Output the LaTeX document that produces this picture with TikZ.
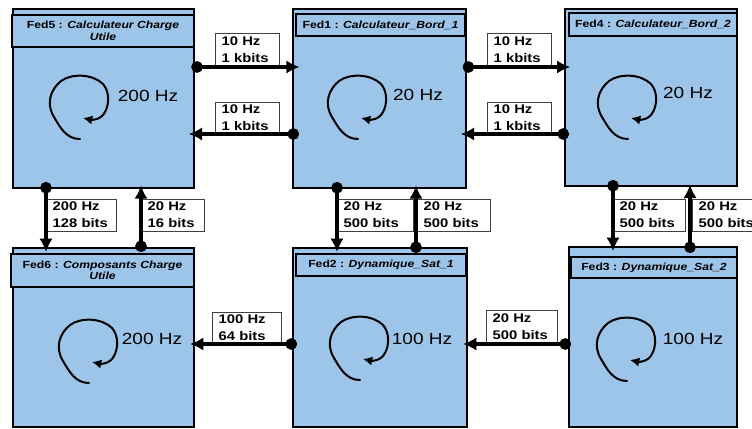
\documentclass[tikz,border=0pt]{standalone}
\usepackage{fontspec}
\setmainfont[FakeStretch=1.18]{Liberation Sans}
\usetikzlibrary{arrows.meta}
\definecolor{fedblue}{HTML}{9DC5E9}
\tikzset{
  x=0.75pt,y=-0.75pt,
  fedbox/.style={draw=black,fill=fedblue,line width=2.15pt,outer sep=0pt,inner sep=0pt},
  fedtitle/.style={draw=black,fill=fedblue,line width=2.15pt,outer sep=0pt,inner sep=0pt,align=center,font=\fontsize{7.75}{8.6}\selectfont\bfseries},
  ratelabel/.style={draw=black!75,fill=white,line width=0.5pt,outer sep=0pt,inner sep=0pt,align=left,font=\fontsize{9.4}{10.4}\selectfont\bfseries},
  freq/.style={font=\fontsize{12.1}{13}\selectfont,inner sep=0pt},
  link/.style={line width=2.8pt,{Circle[length=8.6pt,width=8.6pt]}-{Latex[length=10pt,width=10pt]}},
  loopline/.style={line width=1.5pt,-{Latex[length=7pt,width=7pt]},line cap=round},
}
% name, x1, y1, x2, y2
\newcommand{\fedrect}[6][fedbox]{%
  \pgfmathsetmacro{\cxx}{(#3+#5)/2}\pgfmathsetmacro{\cyy}{(#4+#6)/2}%
  \pgfmathsetmacro{\wdd}{(#5-#3)*0.75}\pgfmathsetmacro{\htt}{(#6-#4)*0.75}%
  \node[#1,minimum width=\wdd pt,minimum height=\htt pt] (#2) at (\cxx,\cyy) {};}
% name, x1, y1, x2, y2, text
\newcommand{\fedhead}[6]{%
  \pgfmathsetmacro{\cxx}{(#2+#4)/2}\pgfmathsetmacro{\cyy}{(#3+#5)/2}%
  \pgfmathsetmacro{\wdd}{(#4-#2)*0.75}\pgfmathsetmacro{\htt}{(#5-#3)*0.75}%
  \node[fedtitle,minimum width=\wdd pt,minimum height=\htt pt] (#1) at (\cxx,\cyy) {#6};}
% name, x1, y1, x2, y2, line1, line2
\newcommand{\ratebox}[7]{%
  \pgfmathsetmacro{\cxx}{(#2+#4)/2}\pgfmathsetmacro{\cyy}{(#3+#5)/2}%
  \pgfmathsetmacro{\wdd}{(#4-#2)*0.75}\pgfmathsetmacro{\htt}{(#5-#3)*0.75}%
  \node[ratelabel,minimum width=\wdd pt,minimum height=\htt pt,text width=\wdd pt-10pt] (#1) at (\cxx,\cyy) {\vspace*{2.5pt}\mbox{#6}\\\mbox{#7}};}
\newcommand{\cycle}[2]{%
  \begin{scope}[shift={(#1,#2)}]
  \draw[loopline] (80,139) .. controls (66,139) and (60,127) .. (54,117)
    .. controls (46,104) and (50,90) .. (61,81)
    .. controls (72,73) and (93,74) .. (103,84)
    .. controls (110,92) and (109,105) .. (105,112)
    .. controls (101,120) and (92,120) .. (83,118);
  \end{scope}}
\begin{document}
\begin{tikzpicture}
\useasboundingbox (0,0) rectangle (752,428);
\fedrect{fed5}{13}{9}{194}{188}
\fedrect{fed1}{293}{9}{466}{188}
\fedrect{fed4}{565}{9}{737}{186}
\fedrect{fed6}{13}{248}{194}{427}
\fedrect{fed2}{293}{248}{467}{427}
\fedrect{fed3}{569}{247}{737}{427}
\fedhead{t5}{12}{15}{194}{47}{Fed5 : \textit{Calculateur Charge}\\\textit{Utile}}
\fedhead{t1}{296}{14}{465}{36}{Fed1 : \textit{Calculateur\_Bord\_1}}
\fedhead{t4}{569}{13}{737}{36}{Fed4 : \textit{Calculateur\_Bord\_2}}
\fedhead{t6}{11}{254}{194}{287}{Fed6 : \textit{Composants Charge}\\\textit{Utile}}
\fedhead{t2}{296}{254}{466}{276}{Fed2 : \textit{Dynamique\_Sat\_1}}
\fedhead{t3}{571}{257}{737}{278}{Fed3 : \textit{Dynamique\_Sat\_2}}
\cycle{0}{0}\cycle{278}{0}\cycle{548}{0}\cycle{9}{244}\cycle{280}{241}\cycle{547}{242}
\node[freq] (f5) at (148,96) {200 Hz};
\node[freq] (f1) at (418,95) {20 Hz};
\node[freq] (f4) at (688,93) {20 Hz};
\node[freq] (f6) at (152,339) {200 Hz};
\node[freq] (f2) at (422,339) {100 Hz};
\node[freq] (f3) at (693,339) {100 Hz};
\ratebox{l1}{215}{33}{279}{67}{10 Hz}{1 kbits}
\ratebox{l2}{215}{102}{279}{134}{10 Hz}{1 kbits}
\ratebox{l3}{487}{33}{551}{67}{10 Hz}{1 kbits}
\ratebox{l4}{487}{102}{551}{134}{10 Hz}{1 kbits}
\ratebox{l5}{46}{199}{116}{231}{200 Hz}{128 bits}
\ratebox{l6}{141}{199}{204}{231}{20 Hz}{16 bits}
\ratebox{l7}{337}{199}{413}{231}{20 Hz}{500 bits}
\ratebox{l8}{417}{199}{490}{231}{20 Hz}{500 bits}
\ratebox{l9}{613}{199}{685}{231}{20 Hz}{500 bits}
\ratebox{l10}{692}{199}{762}{231}{20 Hz}{500 bits}
\ratebox{l11}{486}{310}{557}{344}{20 Hz}{500 bits}
\ratebox{l12}{212}{312}{281}{344}{100 Hz}{64 bits}
\coordinate (r1) at (0,67);
\coordinate (r2) at (0,134);
\coordinate (r3) at (0,344);
\coordinate (c1) at (46,0);
\coordinate (c2) at (141,0);
\coordinate (c3) at (337,0);
\coordinate (c4) at (416,0);
\coordinate (c5) at (613,0);
\coordinate (c6) at (690,0);
\draw[link,shorten <=-2pt,shorten >=-5pt] (fed5.east |- r1) -- (fed1.west |- r1);
\draw[link,shorten <=-4.5pt,shorten >=-4pt] (fed1.west |- r2) -- (fed5.east |- r2);
\draw[link,shorten <=-2.5pt,shorten >=-4pt] (fed1.east |- r1) -- (fed4.west |- r1);
\draw[link,shorten <=-3pt,shorten >=-4pt] (fed4.west |- r2) -- (fed1.east |- r2);
\draw[link,shorten <=-4.5pt,shorten >=-3pt] (fed5.south -| c1) -- (fed6.north -| c1);
\draw[link,shorten <=-3pt,shorten >=-2pt] (fed6.north -| c2) -- (fed5.south -| c2);
\draw[link,shorten <=-4.5pt,shorten >=-3pt] (fed1.south -| c3) -- (fed2.north -| c3);
\draw[link,shorten <=-3.75pt,shorten >=-2pt] (fed2.north -| c4) -- (fed1.south -| c4);
\draw[link,shorten <=-4.5pt,shorten >=-3pt] (fed4.south -| c5) -- (fed3.north -| c5);
\draw[link,shorten <=-4.5pt,shorten >=-1pt] (fed3.north -| c6) -- (fed4.south -| c6);
\draw[link,shorten <=-1.5pt,shorten >=-3pt] (fed3.west |- r3) -- (fed2.east |- r3);
\draw[link,shorten <=-3pt,shorten >=-3pt] (fed2.west |- r3) -- (fed6.east |- r3);
\end{tikzpicture}
\end{document}
